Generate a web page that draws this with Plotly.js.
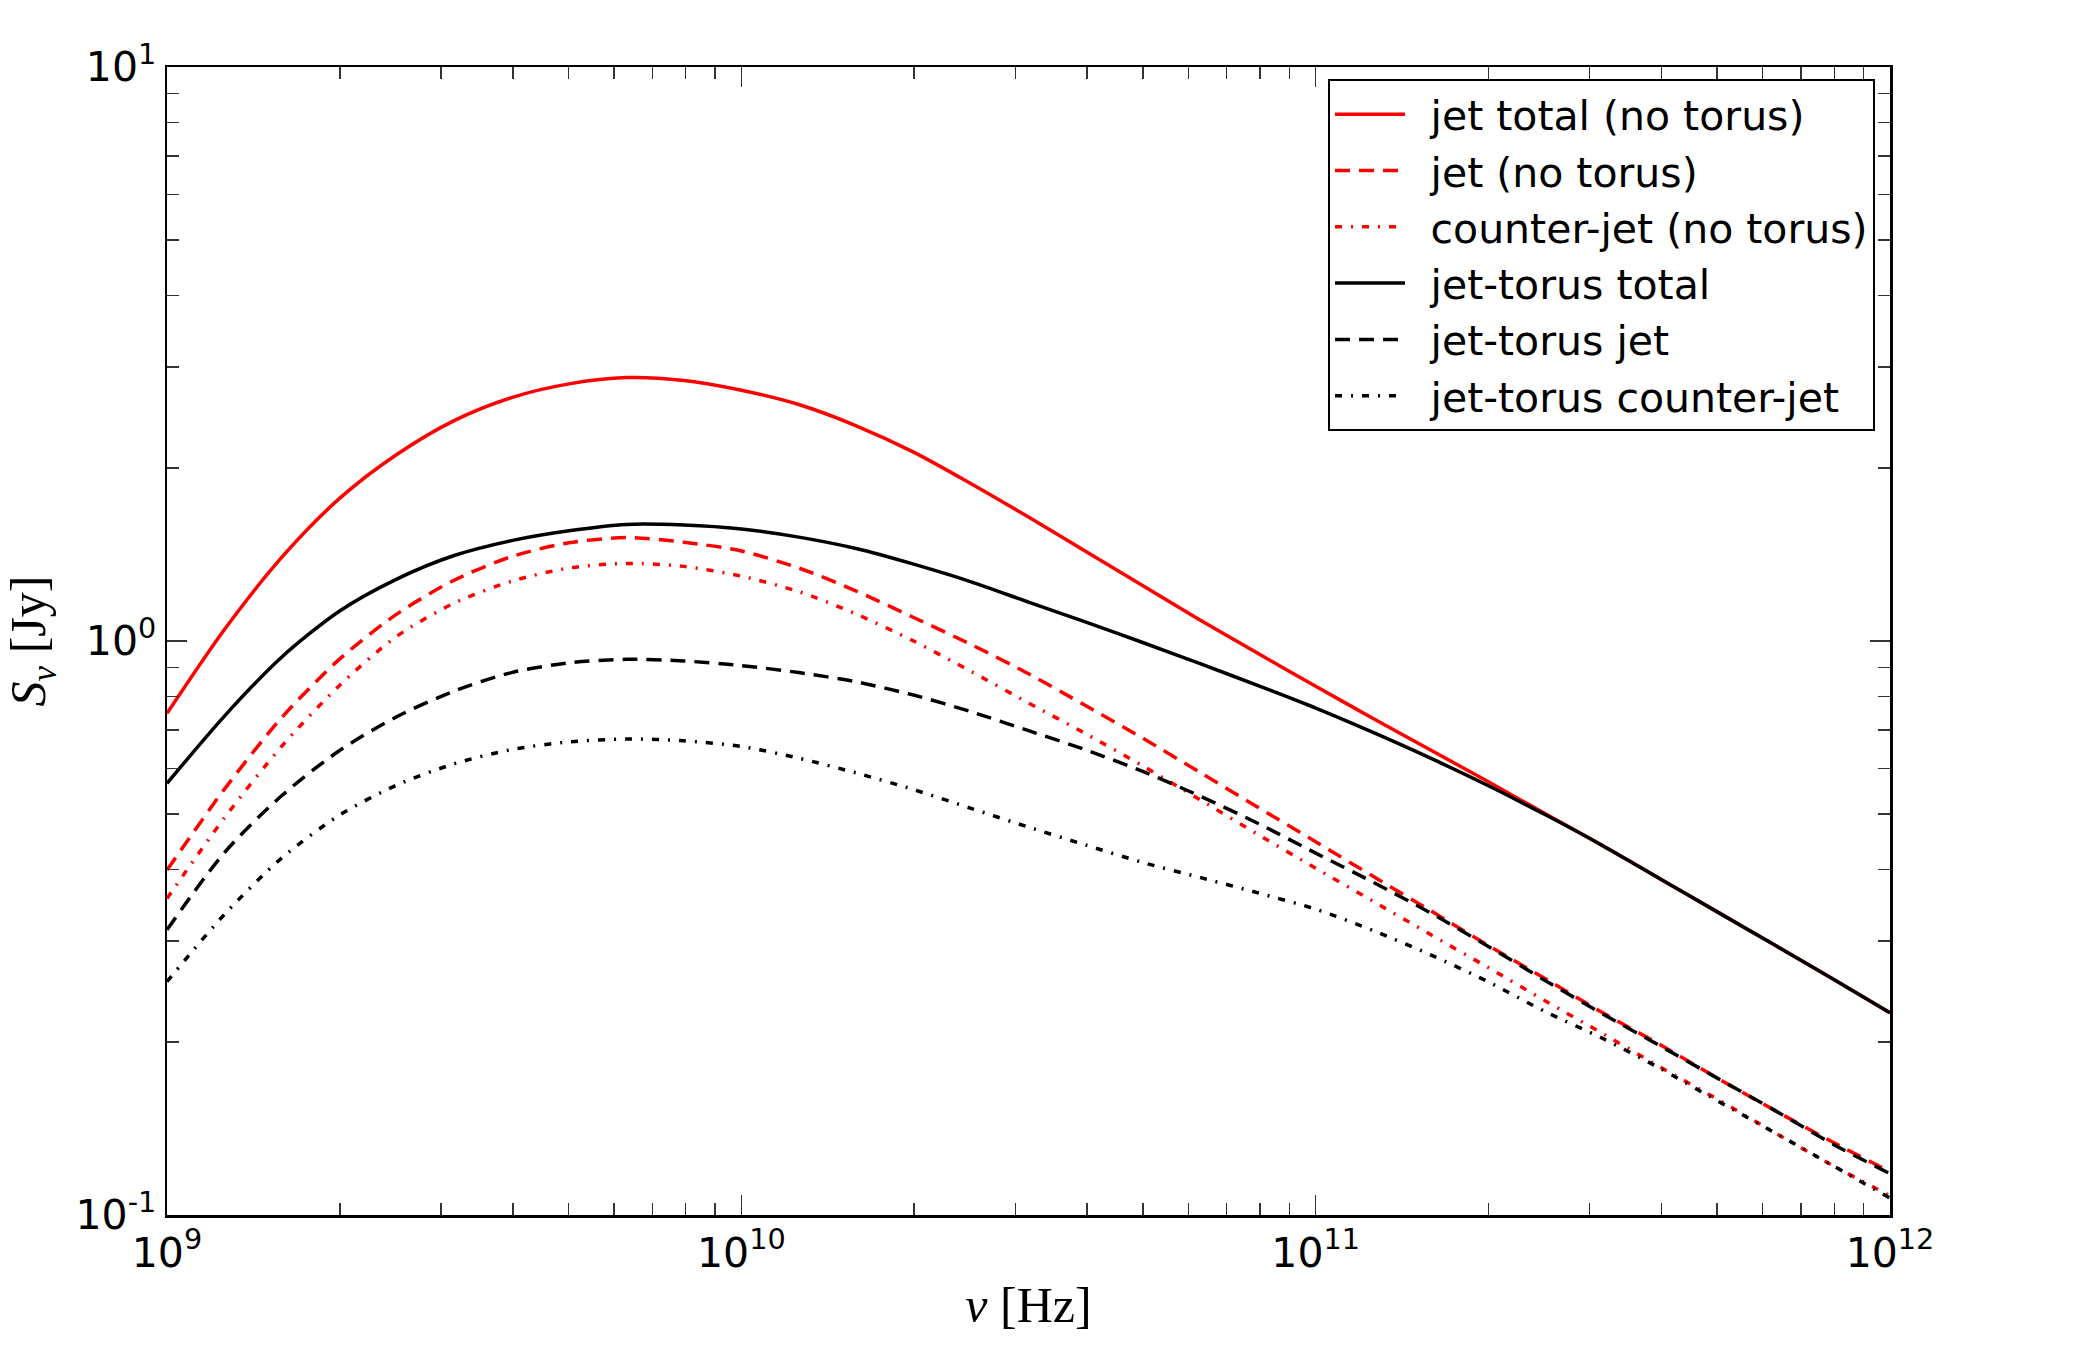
<!DOCTYPE html>
<html>
<head>
<meta charset="utf-8">
<script src="https://cdn.plot.ly/plotly-3.0.1.min.js"></script>
<style>
  html, body { margin: 0; padding: 0; background: #ffffff; }
  #chart { width: 2100px; height: 1350px; }
</style>
</head>
<body>
<div id="chart"></div>
<script>
// Frequency grid (Hz), logarithmic steps of 0.1 dex from 1 GHz to 1 THz
const frequencyHz = [
  1.000e9, 1.259e9, 1.585e9, 1.995e9, 2.512e9, 3.162e9, 3.981e9, 5.012e9, 6.310e9, 7.943e9,
  1.000e10, 1.259e10, 1.585e10, 1.995e10, 2.512e10, 3.162e10, 3.981e10, 5.012e10, 6.310e10, 7.943e10,
  1.000e11, 1.259e11, 1.585e11, 1.995e11, 2.512e11, 3.162e11, 3.981e11, 5.012e11, 6.310e11, 7.943e11,
  1.000e12
];

// Flux densities S_nu (Jy)
const jetTotalNoTorus = [
  0.748, 1.047, 1.400, 1.770, 2.113, 2.421, 2.655, 2.805, 2.877, 2.844,
  2.735, 2.582, 2.371, 2.133, 1.879, 1.644, 1.432, 1.247, 1.086, 0.951,
  0.834, 0.733, 0.646, 0.569, 0.500, 0.440, 0.385, 0.337, 0.295, 0.258,
  0.225
];
const jetNoTorus = [
  0.399, 0.552, 0.736, 0.929, 1.114, 1.276, 1.403, 1.483, 1.514, 1.486,
  1.435, 1.340, 1.222, 1.099, 0.986, 0.877, 0.771, 0.676, 0.589, 0.513,
  0.447, 0.389, 0.339, 0.295, 0.258, 0.225, 0.198, 0.173, 0.152, 0.134,
  0.119
];
const counterJetNoTorus = [
  0.356, 0.492, 0.656, 0.836, 1.019, 1.164, 1.271, 1.340, 1.365, 1.349,
  1.297, 1.219, 1.114, 1.000, 0.885, 0.780, 0.689, 0.605, 0.528, 0.460,
  0.402, 0.352, 0.308, 0.270, 0.236, 0.207, 0.181, 0.159, 0.139, 0.122,
  0.108
];
const jetTorusTotal = [
  0.565, 0.740, 0.938, 1.127, 1.282, 1.409, 1.496, 1.556, 1.596, 1.592,
  1.567, 1.517, 1.449, 1.361, 1.268, 1.169, 1.079, 0.993, 0.912, 0.836,
  0.764, 0.693, 0.625, 0.560, 0.498, 0.440, 0.385, 0.337, 0.295, 0.258,
  0.225
];
const jetTorusJet = [
  0.314, 0.428, 0.538, 0.644, 0.738, 0.818, 0.881, 0.916, 0.929, 0.923,
  0.906, 0.881, 0.849, 0.805, 0.753, 0.698, 0.646, 0.592, 0.536, 0.481,
  0.427, 0.380, 0.336, 0.294, 0.256, 0.224, 0.197, 0.173, 0.152, 0.133,
  0.118
];
const jetTorusCounterJet = [
  0.255, 0.334, 0.419, 0.497, 0.561, 0.611, 0.647, 0.667, 0.675, 0.670,
  0.655, 0.625, 0.589, 0.551, 0.511, 0.474, 0.441, 0.411, 0.387, 0.364,
  0.341, 0.313, 0.284, 0.255, 0.226, 0.203, 0.180, 0.158, 0.139, 0.122,
  0.107
];

// Axis tick labels
const xTickVals = [1e9, 1e10, 1e11, 1e12];
const xTickText = ['10<sup>9</sup>', '10<sup>10</sup>', '10<sup>11</sup>', '10<sup>12</sup>'];
const yTickVals = [0.1, 1, 10];
const yTickText = ['10<sup>-1</sup>', '10<sup>0</sup>', '10<sup>1</sup>'];

// Minor ticks at 2..9 within each decade
function minorTicks(decades) {
  const out = [];
  decades.forEach(d => { for (let m = 2; m <= 9; m++) out.push(m * d); });
  return out;
}

const RED = '#ff0000';
const BLACK = '#000000';
const LW = 3.5;
const DASHED = '15px,9px';
const DASHDOT = '7px,9px,2px,9px';
const GAP = '\u2002'; // small gap between legend line sample and label

const series = [
  { name: 'jet total (no torus)',     y: jetTotalNoTorus,    color: RED,   dash: 'solid' },
  { name: 'jet (no torus)',           y: jetNoTorus,         color: RED,   dash: DASHED },
  { name: 'counter-jet (no torus)',   y: counterJetNoTorus,  color: RED,   dash: DASHDOT },
  { name: 'jet-torus total',          y: jetTorusTotal,      color: BLACK, dash: 'solid' },
  { name: 'jet-torus jet',            y: jetTorusJet,        color: BLACK, dash: DASHED },
  { name: 'jet-torus counter-jet',    y: jetTorusCounterJet, color: BLACK, dash: DASHDOT }
];

const traces = series.map(s => ({
  type: 'scatter',
  mode: 'lines',
  name: GAP + s.name,
  x: frequencyHz,
  y: s.y,
  line: { color: s.color, width: LW, dash: s.dash, shape: 'spline', smoothing: 0.8 }
}));

const tickFont = { family: 'DejaVu Sans, sans-serif', size: 41, color: '#000' };

const axisCommon = {
  type: 'log',
  showgrid: false,
  zeroline: false,
  showline: true,
  linecolor: '#000',
  linewidth: 2.5,
  mirror: 'ticks',
  ticks: 'inside',
  ticklen: 20,
  tickwidth: 1.5,
  tickcolor: '#333',
  tickmode: 'array',
  tickfont: tickFont
};

const layout = {
  width: 2100,
  height: 1350,
  paper_bgcolor: '#ffffff',
  plot_bgcolor: '#ffffff',
  margin: { l: 167, r: 210, t: 67, b: 135 },
  showlegend: true,
  xaxis: Object.assign({}, axisCommon, {
    range: [9, 12],
    tickvals: xTickVals,
    ticktext: xTickText,
    minor: {
      tickmode: 'array',
      tickvals: minorTicks([1e9, 1e10, 1e11]),
      ticks: 'inside', ticklen: 12, tickwidth: 1.5, tickcolor: '#333', showgrid: false
    },
    title: {
      text: '<i>ν</i> [Hz]',
      font: { family: 'Liberation Serif, serif', size: 50, color: '#000' },
      standoff: 12
    }
  }),
  yaxis: Object.assign({}, axisCommon, {
    range: [-1, 1],
    tickvals: yTickVals,
    ticktext: yTickText,
    minor: {
      tickmode: 'array',
      tickvals: minorTicks([0.1, 1]),
      ticks: 'inside', ticklen: 12, tickwidth: 1.5, tickcolor: '#333', showgrid: false
    },
    title: {
      text: '<i>S</i><sub><i>ν</i></sub> [Jy]',
      font: { family: 'Liberation Serif, serif', size: 50, color: '#000' },
      standoff: 20
    }
  }),
  legend: {
    x: 0.9913, xanchor: 'right',
    y: 0.9895, yanchor: 'top',
    bgcolor: '#ffffff',
    bordercolor: '#000',
    borderwidth: 2,
    font: { family: 'DejaVu Sans, sans-serif', size: 41, color: '#000' },
    itemwidth: 70,
    tracegroupgap: 0
  }
};

Plotly.newPlot('chart', traces, layout, { staticPlot: true, displayModeBar: false });
</script>
</body>
</html>
